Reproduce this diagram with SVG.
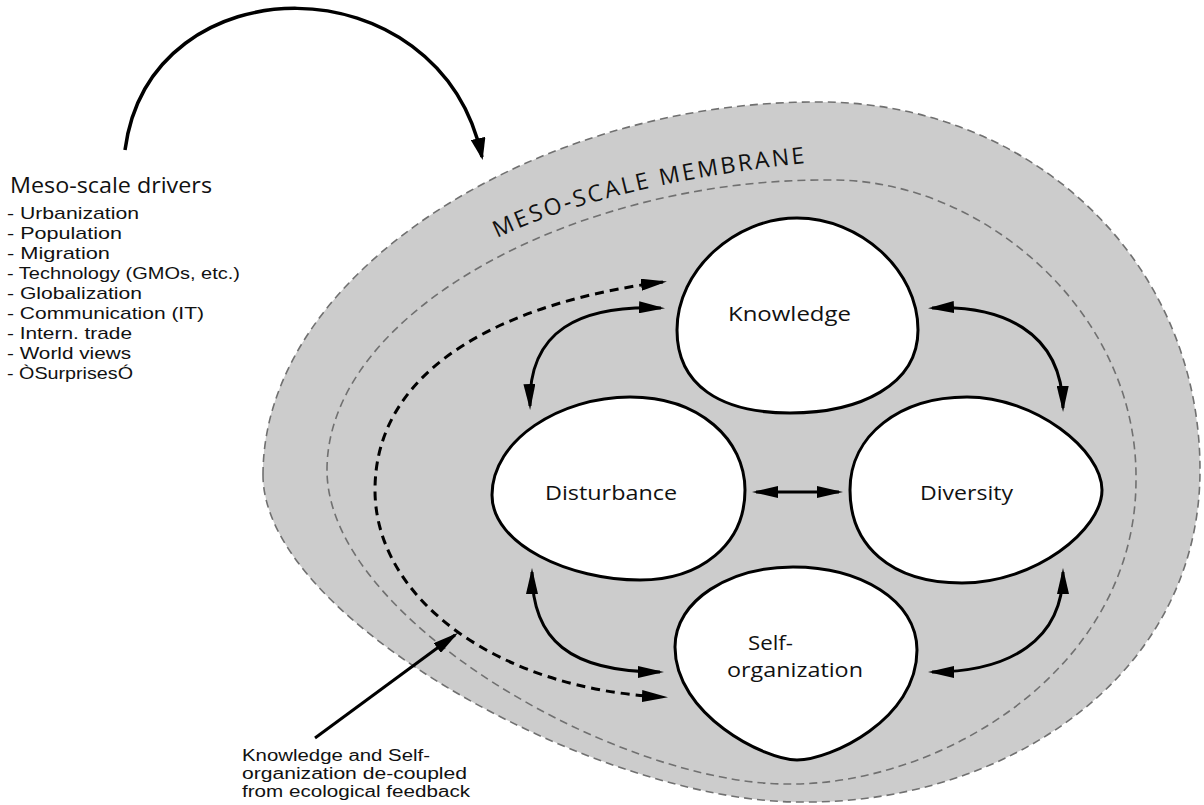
<svg xmlns="http://www.w3.org/2000/svg" xmlns:xlink="http://www.w3.org/1999/xlink" width="1204" height="805" viewBox="0 0 1204 805">
<style>
text{font-family:"Open Sans","Liberation Sans",sans-serif;fill:#111}
.lbl{font-size:20.5px}
.lbl2{font-size:19.5px}
.lst{font-family:"Liberation Sans",Arial,sans-serif;font-size:17px}
.bot{font-family:"Liberation Sans",Arial,sans-serif;font-size:16px}
.hdr{font-size:22px}
.mem{font-size:23px;letter-spacing:2.6px}
.node{fill:#fff;stroke:#000;stroke-width:3}
.memb{fill:#cccccc;stroke:#707070;stroke-width:1.6;stroke-dasharray:8 5}
.innr{fill:none;stroke:#707070;stroke-width:1.6;stroke-dasharray:8 5}
.c{fill:none;stroke:#000;stroke-width:3}
.dash{stroke-dasharray:9 6}
.two{marker-start:url(#ah);marker-end:url(#ah)}
.one{marker-end:url(#ah)}
</style>
<defs>
<marker id="ah" markerUnits="userSpaceOnUse" markerWidth="26" markerHeight="12" refX="22" refY="6" orient="auto-start-reverse"><path d="M0,0 L26,6 L0,12 z" fill="#000"/></marker>
<marker id="ahb" markerUnits="userSpaceOnUse" markerWidth="22" markerHeight="15" refX="19" refY="7.5" orient="auto"><path d="M0,0 L22,7.5 L0,15 z" fill="#000"/></marker>
<path id="mtp" d="M 497,238 C 545,215 640,180 815,162" fill="none"/>
</defs>

<g id="membrane">
<path class="memb" d="M 263,475 C 263,270 540,102 815,102 C 1030,100 1200,260 1200,470 C 1200,680 1000,805 800,802 C 600,802 263,620 263,475 Z"/>
<path class="innr" d="M 327,470 C 327,310 580,178 830,180 C 980,178 1138,310 1136,480 C 1136,670 940,786 787,784 C 620,784 327,620 327,470 Z"/>
<text class="mem"><textPath xlink:href="#mtp" href="#mtp">MESO-SCALE MEMBRANE</textPath></text>
</g>

<g id="knowledge">
<path class="node" d="M 797,218 C 860,218 918,270 918,330 C 918,385 860,413 790,413 C 720,413 677,385 677,330 C 677,270 735,218 797,218 Z"/>
<text class="lbl" x="728" y="321" textLength="123" lengthAdjust="spacingAndGlyphs">Knowledge</text>
</g>

<g id="disturbance">
<path class="node" d="M 630,397 C 700,397 745,440 745,490 C 745,545 700,580 640,580 C 570,580 492,545 492,495 C 492,440 560,397 630,397 Z"/>
<text class="lbl" x="545" y="500" textLength="132" lengthAdjust="spacingAndGlyphs">Disturbance</text>
</g>

<g id="diversity">
<path class="node" d="M 967,397 C 1035,397 1102,450 1102,490 C 1102,530 1035,583 962,583 C 890,583 850,545 850,490 C 850,435 900,397 967,397 Z"/>
<text class="lbl" x="920" y="500" textLength="93" lengthAdjust="spacingAndGlyphs">Diversity</text>
</g>

<g id="self-organization">
<path class="node" d="M 793,567 C 860,567 917,600 917,650 C 917,720 830,760 797,760 C 765,760 675,715 675,647 C 675,600 730,567 793,567 Z"/>
<text class="lbl2" x="748" y="650" textLength="45" lengthAdjust="spacingAndGlyphs">Self-</text>
<text class="lbl2" x="727" y="677" textLength="136" lengthAdjust="spacingAndGlyphs">organization</text>
</g>

<g id="drivers">
<text class="hdr" x="10" y="193" textLength="202" lengthAdjust="spacingAndGlyphs">Meso-scale drivers</text>
<text class="lst" x="7" y="219" textLength="132" lengthAdjust="spacingAndGlyphs">- Urbanization</text>
<text class="lst" x="7" y="239" textLength="115" lengthAdjust="spacingAndGlyphs">- Population</text>
<text class="lst" x="7" y="259" textLength="103" lengthAdjust="spacingAndGlyphs">- Migration</text>
<text class="lst" x="7" y="279" textLength="233" lengthAdjust="spacingAndGlyphs">- Technology (GMOs, etc.)</text>
<text class="lst" x="7" y="299" textLength="135" lengthAdjust="spacingAndGlyphs">- Globalization</text>
<text class="lst" x="7" y="319" textLength="197" lengthAdjust="spacingAndGlyphs">- Communication (IT)</text>
<text class="lst" x="7" y="339" textLength="125" lengthAdjust="spacingAndGlyphs">- Intern. trade</text>
<text class="lst" x="7" y="359" textLength="124" lengthAdjust="spacingAndGlyphs">- World views</text>
<text class="lst" x="7" y="379" textLength="126" lengthAdjust="spacingAndGlyphs">- ÒSurprisesÓ</text>
</g>

<g id="decoupled-note">
<text class="bot" x="242" y="761" textLength="188" lengthAdjust="spacingAndGlyphs">Knowledge and Self-</text>
<text class="bot" x="242" y="779" textLength="225" lengthAdjust="spacingAndGlyphs">organization de-coupled</text>
<text class="bot" x="242" y="797" textLength="228" lengthAdjust="spacingAndGlyphs">from ecological feedback</text>
</g>

<g id="connectors">
<path class="c" style="stroke-width:3.5;marker-end:url(#ahb)" d="M 125,150 C 150,-40 440,-40 482,157"/>
<path class="c two" d="M 530,406 C 528,330 580,305 661,308"/>
<path class="c two dash" d="M 663,282 C 520,300 375,360 375,490 C 375,600 500,690 664,697"/>
<path class="c two" d="M 932,308 C 1000,305 1062,330 1063,408"/>
<path class="c two" d="M 1063,572 C 1063,640 1010,672 932,672"/>
<path class="c two" d="M 532,572 C 532,640 570,672 660,672"/>
<path class="c two" d="M 756,492 L 839,492"/>
<path class="c one" d="M 315,738 L 455,635"/>
</g>
</svg>
